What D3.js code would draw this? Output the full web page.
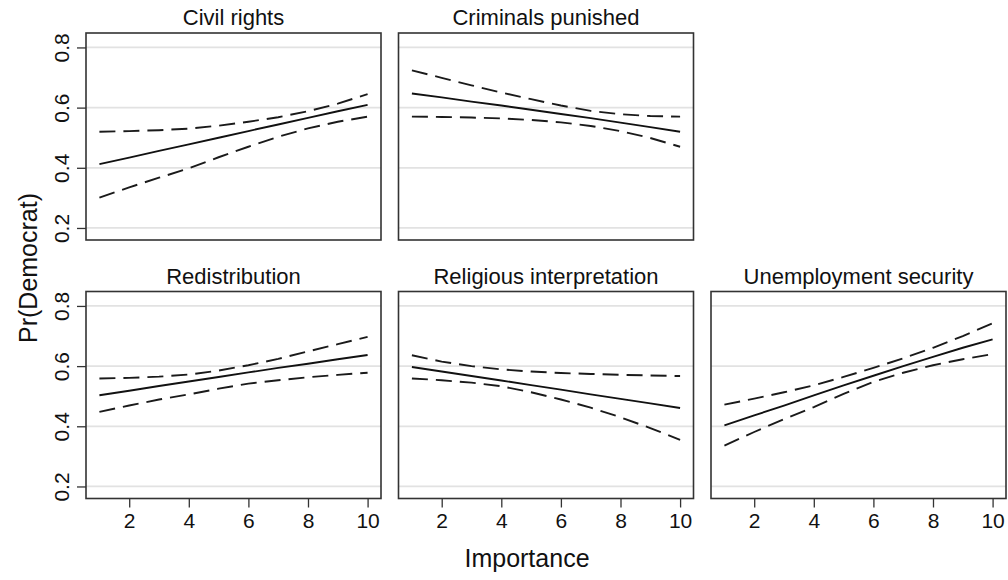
<!DOCTYPE html>
<html>
<head>
<meta charset="utf-8">
<script src="https://cdn.jsdelivr.net/npm/d3@7.9.0/dist/d3.min.js"></script>
<style>
  body { margin: 0; background: #fff; }
  text { font-family: "Liberation Sans", Arial, sans-serif; fill: #111; }
</style>
</head>
<body>
<svg id="chart" width="1008" height="580"></svg>
<script>
// importance scale 1..10
const importance = [1, 2, 3, 4, 5, 6, 7, 8, 9, 10];
const xTicks = [2, 4, 6, 8, 10];
const yTicks = [0.2, 0.4, 0.6, 0.8];

const panelTitles = ['Civil rights', 'Criminals punished', 'Redistribution',
  'Religious interpretation', 'Unemployment security'];

// predicted Pr(Democrat) and 95% bounds
const civilFit = [0.412, 0.434, 0.456, 0.478, 0.500, 0.522, 0.544, 0.566, 0.588, 0.609];
const civilHi  = [0.520, 0.522, 0.525, 0.530, 0.540, 0.553, 0.568, 0.588, 0.613, 0.645];
const civilLo  = [0.301, 0.335, 0.367, 0.398, 0.435, 0.470, 0.503, 0.531, 0.553, 0.570];

const crimFit = [0.647, 0.634, 0.620, 0.607, 0.593, 0.579, 0.565, 0.550, 0.535, 0.520];
const crimHi  = [0.724, 0.699, 0.674, 0.650, 0.628, 0.607, 0.589, 0.578, 0.572, 0.570];
const crimLo  = [0.570, 0.569, 0.567, 0.564, 0.559, 0.551, 0.539, 0.522, 0.499, 0.470];

const redistFit = [0.503, 0.518, 0.534, 0.549, 0.564, 0.579, 0.594, 0.608, 0.623, 0.637];
const redistHi  = [0.559, 0.561, 0.565, 0.572, 0.585, 0.603, 0.624, 0.649, 0.673, 0.697];
const redistLo  = [0.448, 0.469, 0.489, 0.506, 0.525, 0.542, 0.553, 0.563, 0.571, 0.578];

const religFit = [0.597, 0.582, 0.567, 0.552, 0.537, 0.522, 0.506, 0.491, 0.476, 0.461];
const religHi  = [0.636, 0.615, 0.600, 0.589, 0.582, 0.577, 0.574, 0.571, 0.569, 0.567];
const religLo  = [0.559, 0.553, 0.545, 0.533, 0.513, 0.489, 0.462, 0.430, 0.394, 0.355];

const unempFit = [0.403, 0.436, 0.469, 0.503, 0.536, 0.568, 0.600, 0.631, 0.661, 0.689];
const unempHi  = [0.472, 0.492, 0.513, 0.536, 0.564, 0.594, 0.626, 0.661, 0.700, 0.742];
const unempLo  = [0.336, 0.381, 0.424, 0.464, 0.508, 0.548, 0.578, 0.603, 0.623, 0.640];

const panels = [
  { title: panelTitles[0], fit: civilFit, lo: civilLo, hi: civilHi, row: 0, col: 0 },
  { title: panelTitles[1], fit: crimFit, lo: crimLo, hi: crimHi, row: 0, col: 1 },
  { title: panelTitles[2], fit: redistFit, lo: redistLo, hi: redistHi, row: 1, col: 0 },
  { title: panelTitles[3], fit: religFit, lo: religLo, hi: religHi, row: 1, col: 1 },
  { title: panelTitles[4], fit: unempFit, lo: unempLo, hi: unempHi, row: 1, col: 2 },
];

const svg = d3.select('#chart');
const pw = 295, ph = 207;
const left0 = 86, colGap = 17.5;
const rowTops = [33, 291.5];

let x = d3.scaleLinear().domain([0.55, 10.45]).range([0, pw]);
let y = d3.scaleLinear().domain([0.16, 0.848]).range([ph, 0]);

let line = d3.line()
  .x((d, i) => x(importance[i]))
  .y(d => y(d));

panels.forEach(p => {
  let g = svg.append('g')
    .attr('transform', `translate(${left0 + p.col * (pw + colGap)},${rowTops[p.row]})`);

  // light horizontal grid
  g.selectAll('.grid').data(yTicks).join('line')
    .attr('x1', 0).attr('x2', pw)
    .attr('y1', d => y(d)).attr('y2', d => y(d))
    .attr('stroke', '#e2e2e2').attr('stroke-width', 1.7);

  [p.hi, p.lo].forEach(band => {
    g.append('path').datum(band)
      .attr('d', line).attr('fill', 'none')
      .attr('stroke', '#1a1a1a').attr('stroke-width', 1.9)
      .attr('stroke-dasharray', '16,8');
  });
  g.append('path').datum(p.fit)
    .attr('d', line).attr('fill', 'none')
    .attr('stroke', '#111').attr('stroke-width', 1.9);

  g.append('rect')
    .attr('width', pw).attr('height', ph)
    .attr('fill', 'none').attr('stroke', '#333').attr('stroke-width', 1.6);

  g.append('text')
    .attr('x', pw / 2).attr('y', -8)
    .attr('text-anchor', 'middle')
    .style('font-size', '22px')
    .text(p.title);

  if (p.col === 0) {
    let ya = g.append('g').call(d3.axisLeft(y).tickValues(yTicks).tickSize(9).tickPadding(8)
      .tickFormat(d3.format('.1f')));
    ya.select('.domain').remove();
    ya.selectAll('line').attr('stroke', '#333').attr('stroke-width', 1.3);
    ya.selectAll('text')
      .attr('x', null).attr('dy', null)
      .attr('transform', 'translate(-17,0) rotate(-90)')
      .attr('text-anchor', 'middle')
      .style('font-size', '21px')
      .style('font-family', '"Liberation Sans", Arial, sans-serif')
      .attr('fill', '#111');
  }

  if (p.row === 1) {
    let xa = g.append('g').attr('transform', `translate(0,${ph})`)
      .call(d3.axisBottom(x).tickValues(xTicks).tickSize(9).tickPadding(6));
    xa.select('.domain').remove();
    xa.selectAll('line').attr('stroke', '#333').attr('stroke-width', 1.3);
    xa.selectAll('text')
      .style('font-size', '21px')
      .style('font-family', '"Liberation Sans", Arial, sans-serif')
      .attr('fill', '#111');
  }
});

svg.append('text')
  .attr('x', 527).attr('y', 567)
  .attr('text-anchor', 'middle')
  .style('font-size', '25px')
  .text('Importance');

svg.append('text')
  .attr('transform', 'translate(37,268) rotate(-90)')
  .attr('text-anchor', 'middle')
  .style('font-size', '25px')
  .text('Pr(Democrat)');
</script>
</body>
</html>
